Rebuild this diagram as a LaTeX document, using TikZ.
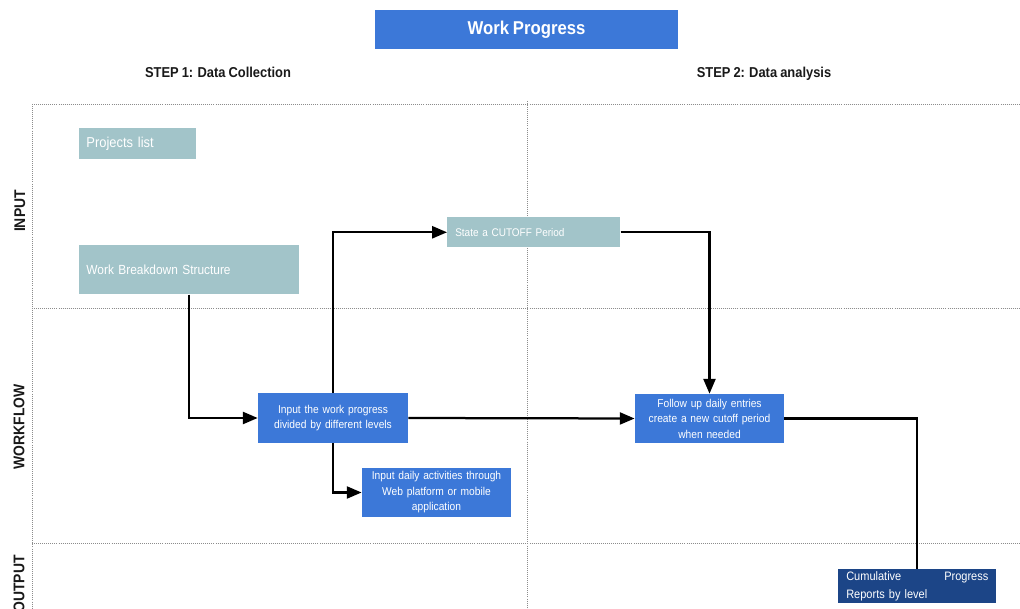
\documentclass[tikz,border=0pt]{standalone}
\usepackage{fontspec}
\setmainfont[FakeStretch=0.9, WordSpace=0.85]{Liberation Sans}
\usetikzlibrary{positioning, arrows.meta}

\definecolor{boxteal}{HTML}{A2C4C9}
\definecolor{boxblue}{HTML}{3C78D8}
\definecolor{boxnavy}{HTML}{1C4587}

\begin{document}
\begin{tikzpicture}[
		x=0.025cm, y=-0.025cm,
		>={Triangle[length=10.5pt, width=8.5pt]},
		laneline/.style={black!45, densely dotted, line width=0.45pt},
		titlebox/.style={fill=boxblue, text=white, font=\fontsize{13.2}{15}\selectfont\bfseries, minimum width=7.575cm, minimum height=0.975cm, inner sep=0pt},
		steplabel/.style={font=\fontsize{10.2}{12}\selectfont\bfseries, text=black!90, anchor=base},
		lanelabel/.style={font=\fontsize{11}{13}\selectfont\bfseries, text=black!90, rotate=90},
		inbox/.style={fill=boxteal, text=white, anchor=north west, align=left, inner xsep=0.18cm, inner ysep=0pt},
		stepbox/.style={fill=boxblue, text=white, font=\fontsize{8.1}{11}\selectfont, align=center, inner xsep=0.1cm, inner ysep=1pt, text width=3.53cm, minimum height=1.225cm},
		outbox/.style={fill=boxnavy, text=white, font=\fontsize{8.7}{12.8}\selectfont, align=left, anchor=north west, inner xsep=0.2cm, inner ysep=1.5pt, text width=3.55cm},
		flow/.style={->, line width=1.6pt}
		]
		
		\useasboundingbox (0,0) rectangle (1020,609);
		
		% --- lanes ---
		\draw[laneline] (32,104) -- (1020,104);
		\draw[laneline] (32,308) -- (1020,308);
		\draw[laneline] (32,543) -- (1020,543);
		\draw[laneline] (32,104) -- (32,609);
		\draw[laneline] (527,101) -- (527,609);
		
		\node[lanelabel] (input) at (20,211) {INPUT};
		\node[lanelabel] (workflow) at (19,427) {WORKFLOW};
		\node[lanelabel] (output) at (19,584) {OUTPUT};
		
		% --- headings ---
		\node[titlebox] (title) at (526.5,29.5) {Work Progress};
		\node[steplabel] (step1) at (218,78) {STEP 1: Data Collection};
		\node[steplabel] (step2) at (764,78) {STEP 2: Data analysis};
		
		% --- input boxes ---
		\node[inbox, font=\fontsize{10.2}{12}\selectfont, text width=2.565cm, minimum height=0.775cm] (projects) at (79,128) {Projects list};
		\node[inbox, font=\fontsize{9.4}{12}\selectfont, text width=5.14cm, minimum height=1.225cm] (wbs) at (79,245) {Work Breakdown Structure};
		\node[inbox, font=\fontsize{7.9}{10}\selectfont, inner xsep=0.2cm, text width=3.925cm, minimum height=0.75cm] (cutoff) at (447,217) {State a CUTOFF Period};
		
		% --- workflow boxes ---
		\node[stepbox, text width=3.55cm] (progress) at (333,418) {Input the work progress\\divided by different levels};
		\node[stepbox] (daily) at (436.5,492.5) {Input daily activities through\\Web platform or mobile\\application};
		\node[stepbox] (follow) at (709.5,418.5) {Follow up daily entries\\create a new cutoff period\\when needed};
		
		% --- output ---
		\node[outbox, minimum height=0.825cm] (reports) at (838,569) {Cumulative\hfill Progress\\Reports by level};
		
		% --- connectors ---
		\draw[flow] (wbs.south) |- (progress.west);
		\draw[flow] (progress.north) |- (cutoff.west);
		\draw[flow] (progress.south) |- (daily.west);
		\draw[flow] (progress.east) -- (follow.west);
		\draw[flow] (cutoff.east) -| (follow.north);
		\draw[line width=1.6pt] (follow.east) -| (reports.north);
		
	\end{tikzpicture}
\end{document}
